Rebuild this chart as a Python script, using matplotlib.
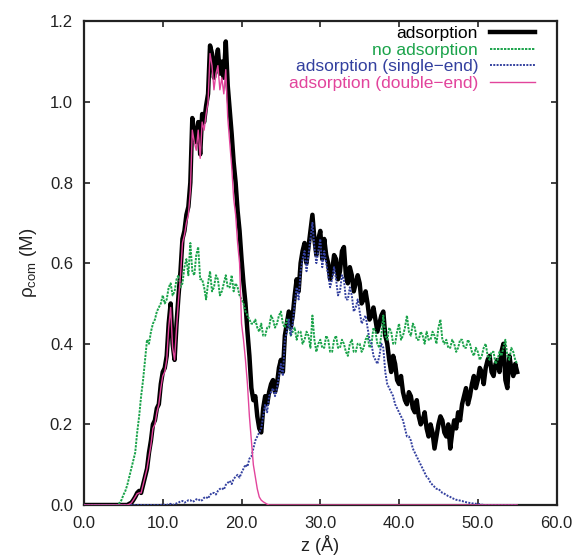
import numpy as np
import matplotlib
matplotlib.use("Agg")
import matplotlib.pyplot as plt

plt.rcParams['font.family'] = ['Liberation Sans', 'DejaVu Sans']
plt.rcParams['mathtext.default'] = 'regular'

# z grid (Angstrom), 0.25 A bins; each row covers 5 A (20 bins)
z_step = 0.25

adsorption = [
    0, 0, 0, 0, 0, 0, 0, 0, 0, 0, 0, 0, 0, 0, 0, 0, 0, 0, 0, 0,
    0, 0, 0, 0.003, 0.005, 0.012, 0.02, 0.03, 0.035, 0.03, 0.05, 0.07, 0.09, 0.13, 0.16, 0.20, 0.21, 0.24, 0.25, 0.30,
    0.33, 0.34, 0.37, 0.45, 0.50, 0.40, 0.36, 0.45, 0.52, 0.58, 0.66, 0.68, 0.72, 0.74, 0.80, 0.96, 0.92, 0.90, 0.95, 0.87,
    0.97, 0.95, 0.99, 1.02, 1.14, 1.12, 1.06, 1.10, 1.13, 1.07, 1.10, 1.06, 1.15, 1.04, 0.98, 0.92, 0.85, 0.80, 0.73, 0.68,
    0.61, 0.55, 0.50, 0.43, 0.37, 0.29, 0.26, 0.27, 0.22, 0.19, 0.18, 0.24, 0.27, 0.25, 0.28, 0.30, 0.31, 0.28, 0.30, 0.34,
    0.36, 0.33, 0.42, 0.45, 0.48, 0.44, 0.47, 0.52, 0.56, 0.53, 0.60, 0.63, 0.65, 0.60, 0.64, 0.68, 0.72, 0.66, 0.62, 0.66,
    0.68, 0.61, 0.66, 0.62, 0.60, 0.56, 0.58, 0.62, 0.61, 0.56, 0.58, 0.63, 0.64, 0.57, 0.55, 0.59, 0.57, 0.53, 0.55, 0.57,
    0.55, 0.50, 0.51, 0.53, 0.50, 0.46, 0.47, 0.49, 0.46, 0.43, 0.45, 0.47, 0.48, 0.42, 0.40, 0.36, 0.33, 0.37, 0.35, 0.31,
    0.30, 0.32, 0.28, 0.26, 0.25, 0.28, 0.27, 0.24, 0.23, 0.26, 0.22, 0.20, 0.21, 0.23, 0.19, 0.17, 0.20, 0.18, 0.14, 0.17,
    0.20, 0.22, 0.21, 0.18, 0.17, 0.20, 0.14, 0.18, 0.21, 0.19, 0.23, 0.21, 0.25, 0.27, 0.29, 0.25, 0.27, 0.30, 0.32, 0.29,
    0.31, 0.34, 0.33, 0.30, 0.34, 0.36, 0.37, 0.33, 0.32, 0.35, 0.36, 0.33, 0.38, 0.40, 0.31, 0.29, 0.37, 0.34, 0.32, 0.35,
    0.33,
]

no_adsorption = [
    0, 0, 0, 0, 0, 0, 0, 0, 0, 0, 0, 0, 0, 0, 0, 0, 0, 0, 0.005, 0.012,
    0.025, 0.035, 0.05, 0.07, 0.09, 0.11, 0.13, 0.18, 0.22, 0.27, 0.31, 0.36, 0.41, 0.40, 0.43, 0.45, 0.46, 0.48, 0.49, 0.50,
    0.52, 0.50, 0.51, 0.54, 0.55, 0.52, 0.53, 0.56, 0.57, 0.54, 0.55, 0.59, 0.61, 0.57, 0.65, 0.58, 0.57, 0.62, 0.64, 0.56,
    0.56, 0.54, 0.51, 0.55, 0.58, 0.53, 0.54, 0.57, 0.56, 0.52, 0.53, 0.55, 0.57, 0.54, 0.54, 0.57, 0.53, 0.55, 0.54, 0.52,
    0.51, 0.50, 0.48, 0.47, 0.46, 0.45, 0.45, 0.46, 0.44, 0.43, 0.45, 0.42, 0.42, 0.44, 0.44, 0.47, 0.46, 0.44, 0.45, 0.47,
    0.48, 0.45, 0.44, 0.46, 0.45, 0.42, 0.43, 0.44, 0.41, 0.43, 0.43, 0.40, 0.41, 0.43, 0.42, 0.39, 0.47, 0.41, 0.38, 0.40,
    0.41, 0.39, 0.39, 0.42, 0.41, 0.38, 0.38, 0.41, 0.42, 0.39, 0.39, 0.41, 0.40, 0.38, 0.37, 0.40, 0.41, 0.38, 0.38, 0.40,
    0.40, 0.38, 0.39, 0.41, 0.42, 0.39, 0.40, 0.44, 0.43, 0.40, 0.39, 0.42, 0.47, 0.42, 0.41, 0.44, 0.43, 0.40, 0.40, 0.43,
    0.45, 0.41, 0.42, 0.44, 0.47, 0.43, 0.42, 0.45, 0.44, 0.41, 0.41, 0.43, 0.42, 0.40, 0.43, 0.41, 0.41, 0.43, 0.42, 0.40,
    0.44, 0.46, 0.41, 0.40, 0.41, 0.39, 0.39, 0.41, 0.40, 0.38, 0.39, 0.41, 0.41, 0.39, 0.39, 0.41, 0.40, 0.38, 0.37, 0.39,
    0.38, 0.36, 0.37, 0.39, 0.40, 0.37, 0.36, 0.38, 0.38, 0.35, 0.36, 0.38, 0.37, 0.39, 0.41, 0.37, 0.36, 0.39, 0.38, 0.36,
    0.35,
]

single_end = [
    0, 0, 0, 0, 0, 0, 0, 0, 0, 0, 0, 0, 0, 0, 0, 0, 0, 0, 0, 0,
    0, 0, 0, 0, 0, 0, 0, 0, 0, 0, 0, 0, 0, 0, 0, 0, 0, 0, 0, 0,
    0.002, 0.0, 0.0, 0.002, 0.003, 0.0, 0.002, 0.004, 0.006, 0.009, 0.01, 0.006, 0.008, 0.012, 0.012, 0.008, 0.01, 0.014, 0.015, 0.01,
    0.012, 0.018, 0.02, 0.016, 0.025, 0.03, 0.03, 0.026, 0.035, 0.04, 0.042, 0.038, 0.05, 0.055, 0.06, 0.052, 0.065, 0.07, 0.075, 0.068,
    0.08, 0.09, 0.10, 0.095, 0.115, 0.12, 0.14, 0.16, 0.17, 0.18, 0.19, 0.22, 0.25, 0.23, 0.27, 0.28, 0.29, 0.27, 0.29, 0.32,
    0.35, 0.32, 0.41, 0.43, 0.46, 0.42, 0.45, 0.50, 0.54, 0.51, 0.58, 0.61, 0.63, 0.58, 0.62, 0.66, 0.70, 0.64, 0.60, 0.63,
    0.66, 0.59, 0.63, 0.60, 0.57, 0.54, 0.56, 0.59, 0.56, 0.52, 0.53, 0.57, 0.56, 0.51, 0.51, 0.54, 0.52, 0.48, 0.49, 0.51,
    0.48, 0.45, 0.46, 0.47, 0.44, 0.41, 0.40, 0.37, 0.36, 0.35, 0.37, 0.40, 0.39, 0.33, 0.30, 0.29, 0.28, 0.27, 0.25, 0.24,
    0.23, 0.22, 0.21, 0.19, 0.17, 0.17, 0.16, 0.14, 0.13, 0.12, 0.11, 0.10, 0.09, 0.08, 0.07, 0.065, 0.055, 0.05, 0.045, 0.04,
    0.04, 0.035, 0.03, 0.028, 0.025, 0.022, 0.02, 0.017, 0.015, 0.013, 0.012, 0.011, 0.01, 0.008, 0.007, 0.006, 0.005, 0.004, 0.004, 0.003,
    0.003, 0.002, 0.001, 0, 0, 0, 0, 0, 0, 0, 0, 0, 0, 0, 0, 0, 0, 0, 0, 0,
    0,
]

double_end = [
    0, 0, 0, 0, 0, 0, 0, 0, 0, 0, 0, 0, 0, 0, 0, 0, 0, 0, 0, 0,
    0, 0, 0, 0.002, 0.005, 0.012, 0.02, 0.028, 0.03, 0.03, 0.05, 0.07, 0.09, 0.12, 0.15, 0.19, 0.20, 0.23, 0.25, 0.29,
    0.32, 0.33, 0.36, 0.44, 0.49, 0.39, 0.36, 0.44, 0.51, 0.57, 0.65, 0.67, 0.70, 0.72, 0.78, 0.93, 0.90, 0.88, 0.93, 0.86,
    0.95, 0.93, 0.97, 1.00, 1.12, 1.09, 1.03, 1.07, 1.09, 1.03, 1.06, 1.02, 1.08, 0.96, 0.90, 0.84, 0.76, 0.72, 0.65, 0.60,
    0.45, 0.41, 0.36, 0.30, 0.22, 0.16, 0.10, 0.07, 0.04, 0.02, 0.012, 0.008, 0.005, 0.002, 0, 0, 0, 0, 0, 0,
] + [0] * 121

labels = ["adsorption", "no adsorption", "adsorption (single\u2212end)",
          "adsorption (double\u2212end)"]
colors = ["#000000", "#1aa34a", "#33409f", "#e2449c"]

fig = plt.figure(figsize=(5.77, 5.59), dpi=100)
ax = fig.add_axes([0.1456, 0.0966, 0.8190, 0.8653])

def zgrid(vals):
    return np.arange(len(vals)) * z_step

ax.plot(zgrid(adsorption), adsorption, color=colors[0], lw=3.2, label=labels[0], zorder=2)
ax.plot(zgrid(no_adsorption), no_adsorption, color=colors[1], lw=1.4, ls=(0, (1.2, 0.6)),
        label=labels[1], zorder=3)
ax.plot(zgrid(single_end), single_end, color=colors[2], lw=1.4, ls=(0, (1.0, 0.7)),
        label=labels[2], zorder=4)
ax.plot(zgrid(double_end), double_end, color=colors[3], lw=1.0, label=labels[3], zorder=5)

ax.set_xlim(0, 60)
ax.set_ylim(0, 1.2)
ax.set_xticks(np.arange(0, 61, 10))
ax.set_yticks(np.arange(0, 1.21, 0.2))
ax.xaxis.set_major_formatter(matplotlib.ticker.FormatStrFormatter('%.1f'))
ax.yaxis.set_major_formatter(matplotlib.ticker.FormatStrFormatter('%.1f'))
ax.tick_params(direction='in', top=True, right=True, length=4, width=1.2,
               labelsize=12, pad=8, colors='#222222')
for s in ax.spines.values():
    s.set_linewidth(1.6)
    s.set_color('#222222')

ax.set_xlabel("z (\u00c5)", fontsize=13, labelpad=3, color='#222222')
ax.set_ylabel("$\u03c1_{com}$ (M)", fontsize=13.5, labelpad=8, color='#222222')

leg = ax.legend(loc='upper right', bbox_to_anchor=(0.955, 0.99), frameon=False,
                markerfirst=False, fontsize=12.5,
                handlelength=2.6, handletextpad=0.7, labelspacing=0.08,
                borderaxespad=0.0, borderpad=0.0, labelcolor='linecolor')

fig.savefig("out.png", dpi=100)
